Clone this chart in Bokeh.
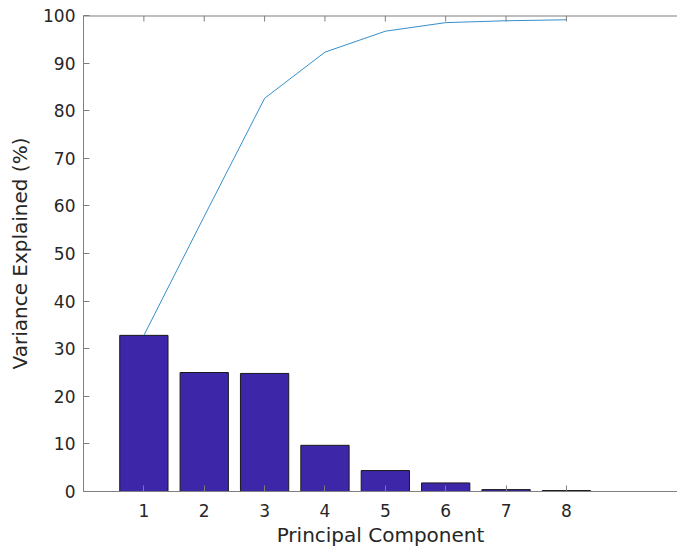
import math
from bokeh.plotting import figure
from bokeh.models import Range1d, FixedTicker, Span
from bokeh.embed import file_html
from bokeh.resources import INLINE

components = [1, 2, 3, 4, 5, 6, 7, 8]
variance = [32.8, 25.0, 24.8, 9.7, 4.4, 1.8, 0.4, 0.2]
cumulative = [32.8, 57.8, 82.6, 92.3, 96.7, 98.5, 98.9, 99.1]
x_ticks = [1, 2, 3, 4, 5, 6, 7, 8]
y_ticks = [0, 10, 20, 30, 40, 50, 60, 70, 80, 90, 100]
y_max = 100

FONT = "DejaVu Sans"
TXT = "#262626"
AX = "#7f7f7f"

p = figure(frame_width=594, frame_height=476, output_backend="svg", toolbar_location=None,
           x_range=Range1d(0, 9.84), y_range=Range1d(0, y_max),
           min_border_left=83, min_border_right=0, min_border_top=15, min_border_bottom=57,
           x_axis_label="Principal Component", y_axis_label="Variance Explained (%)")
p.outline_line_color = None
p.xgrid.visible = False
p.ygrid.visible = False
p.background_fill_color = "white"
p.border_fill_color = "white"

p.vbar(x=components, top=variance, width=0.8, fill_color="#3e26a8",
       line_color="#1a1a1a", line_width=1)
p.line(x=components, y=cumulative, line_color="#0072bd", line_width=0.8)

# top box edge with inward ticks
p.add_layout(Span(location=y_max, dimension="width", line_color=AX, line_width=2))
p.ray(x=x_ticks, y=[y_max] * len(x_ticks), length=6, length_units="screen",
      angle=-math.pi / 2, line_color=AX, line_width=1)

for ax in (p.xaxis[0], p.yaxis[0]):
    ax.major_tick_in = 6
    ax.major_tick_out = 0
    ax.minor_tick_in = 0
    ax.minor_tick_out = 0
    ax.axis_line_color = AX
    ax.major_tick_line_color = AX
    ax.major_label_text_font = FONT
    ax.major_label_text_font_size = "17px"
    ax.major_label_text_color = TXT
    ax.axis_label_text_font = FONT
    ax.axis_label_text_font_size = "20px"
    ax.axis_label_text_font_style = "normal"
    ax.axis_label_text_color = TXT

p.xaxis[0].ticker = FixedTicker(ticks=x_ticks)
p.yaxis[0].ticker = FixedTicker(ticks=y_ticks)
p.xaxis[0].major_label_standoff = 12
p.xaxis[0].axis_label_standoff = 3
p.yaxis[0].major_label_standoff = 8
p.yaxis[0].axis_label_standoff = 8

open("out.html", "w").write(file_html(p, INLINE))
